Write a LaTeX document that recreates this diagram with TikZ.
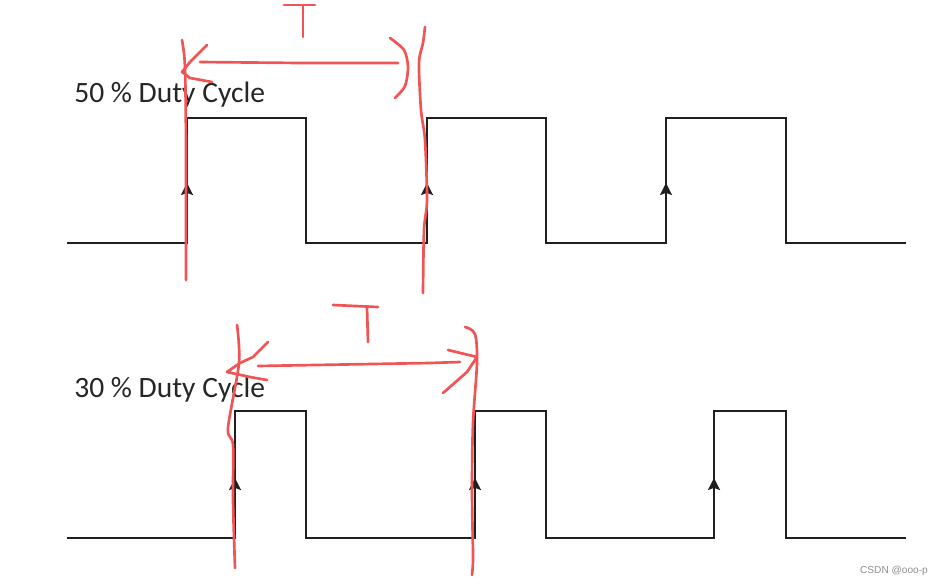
\documentclass[tikz,border=0pt]{standalone}
\usepackage{fontspec}
\setmainfont{Carlito}
\newfontfamily\wmfont{Liberation Sans}
\usetikzlibrary{arrows.meta}
\definecolor{penred}{RGB}{240,84,84}

\begin{document}
\begin{tikzpicture}[
    x=0.025cm, y=-0.025cm,
    wave/.style={line width=1.8pt, black!88, line join=miter},
    riseedge/.style={wave, -{Stealth[length=8.5pt, width=8.5pt, inset=1.5pt]}},
    pen/.style={draw=penred, line width=1.9pt, line cap=round, line join=round},
    title/.style={font=\fontsize{21}{25}\selectfont, text=black!85, anchor=base west, inner sep=0pt}
]
    \useasboundingbox (0,0) rectangle (942,586);

    % labels
    \node[title] (top) at (74,102) {50 \% Duty Cycle};
    \node[title] (bot) at (74,397) {30 \% Duty Cycle};

    % 50 % signal
    \draw[wave] (67,243) -- (187,243) -- (187,118) -- (306,118) -- (306,243)
        -- (427,243) -- (427,118) -- (546,118) -- (546,243)
        -- (666,243) -- (666,118) -- (786,118) -- (786,243) -- (906,243);
    \foreach \x in {187,427,666}
        \draw[riseedge] (\x,210) -- (\x,183);

    % 30 % signal
    \draw[wave] (67,538) -- (235,538) -- (235,411) -- (306,411) -- (306,538)
        -- (475,538) -- (475,411) -- (546,411) -- (546,538)
        -- (714,538) -- (714,411) -- (786,411) -- (786,538) -- (906,538);
    \foreach \x in {235,475,714}
        \draw[riseedge] (\x,505) -- (\x,478);

    % hand marks, top period
    \draw[pen] plot[smooth] coordinates {(182,40) (185,67) (186,150) (186,280)};
    \draw[pen] plot[smooth] coordinates {(425,27) (423,43) (419,63) (421,110) (425,140) (427,200) (424,230) (423,293)};
    \draw[pen] (207,45) -- (190,62) -- (182,72) -- (190,78) -- (212,82);
    \draw[pen] (200,62) -- (300,63) -- (398,63);
    \draw[pen] plot[smooth] coordinates {(390,38) (404,50) (408,67) (405,86) (395,98)};
    \draw[pen] (284,5) -- (315,5);
    \draw[pen] (303,5) -- (303,37);

    % hand marks, bottom period
    \draw[pen] plot[smooth] coordinates {(237,325) (239,363) (228,428) (233,445) (233,500) (235,568)};
    \draw[pen] plot[smooth] coordinates {(465,327) (475,334) (477,363) (473,423) (472,490) (473,557) (472,575)};
    \draw[pen] (268,342) -- (253,357) -- (240,363) -- (227,372) -- (250,377) -- (267,380);
    \draw[pen] (258,366) -- (430,363) -- (460,362);
    \draw[pen] (448,350) -- (477,357) -- (467,372) -- (443,393);
    \draw[pen] (333,305) -- (378,307);
    \draw[pen] (367,307) -- (368,342);

    % watermark
    \node[font=\wmfont\fontsize{7.2}{9}\selectfont, text=black!45] (wm) at (894,571) {CSDN @ooo-p};
\end{tikzpicture}
\end{document}
